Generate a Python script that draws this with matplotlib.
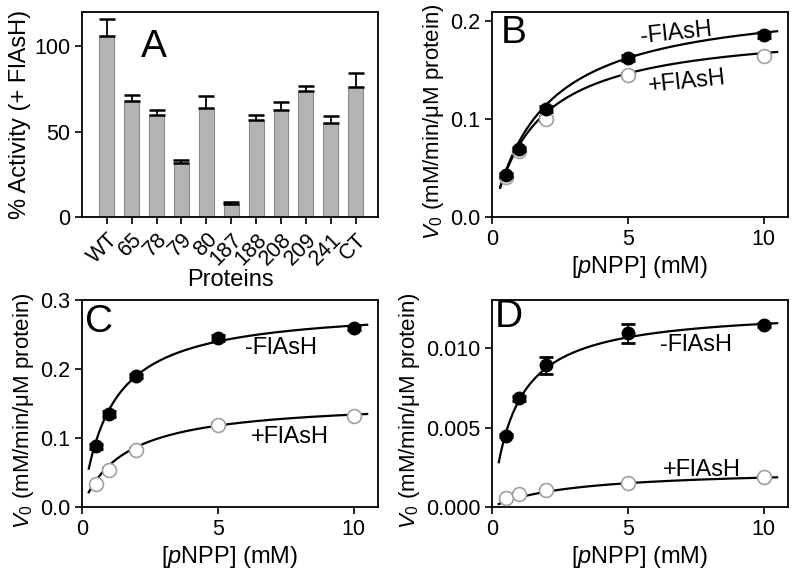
import numpy as np
import matplotlib
matplotlib.use("Agg")
import matplotlib.pyplot as plt

plt.rcParams['font.family'] = ['Liberation Sans', 'DejaVu Sans']
plt.rcParams['mathtext.fontset'] = 'custom'
plt.rcParams['mathtext.rm'] = 'Liberation Sans'
plt.rcParams['mathtext.it'] = 'Liberation Sans:italic'

# ---- Panel A data ----
proteins = ["WT", "65", "78", "79", "80", "187", "188", "208", "209", "241", "CT"]
activity = [106, 68, 60, 32, 64, 8, 57, 63, 74, 55, 76]
activity_err = [10, 3.5, 2.5, 1.5, 7, 0.8, 3, 4.5, 3, 4, 8.5]

# ---- Kinetic data ----
substrate = [0.5, 1, 2, 5, 10]

B_minus = [0.043, 0.070, 0.110, 0.162, 0.186]
B_minus_err = [0.002, 0.002, 0.003, 0.003, 0.003]
B_plus = [0.041, 0.068, 0.100, 0.145, 0.164]
B_plus_err = [0.002, 0.002, 0.003, 0.002, 0.002]

C_minus = [0.088, 0.135, 0.190, 0.245, 0.260]
C_minus_err = [0.004, 0.004, 0.003, 0.004, 0.003]
C_plus = [0.033, 0.054, 0.083, 0.119, 0.132]
C_plus_err = [0.002, 0.002, 0.002, 0.003, 0.002]

D_minus = [0.0045, 0.00685, 0.00895, 0.01095, 0.01148]
D_minus_err = [0.0001, 0.00015, 0.00053, 0.0006, 0.0001]
D_plus = [0.00055, 0.00082, 0.00107, 0.00153, 0.0019]
D_plus_err = [0.00003, 0.00003, 0.00003, 0.00005, 0.00008]

# Michaelis-Menten fit parameters (Vmax, Km)
B_fit_minus = (0.224, 1.9)
B_fit_plus = (0.195, 1.65)
C_fit_minus = (0.291, 1.06)
C_fit_plus = (0.155, 1.57)
D_fit_minus = (0.01255, 0.862)
D_fit_plus = (0.00241, 3.04)

fig = plt.figure(figsize=(8, 5.84), dpi=100)

axA = fig.add_axes([0.1025, 0.628, 0.37, 0.351])
axB = fig.add_axes([0.615, 0.628, 0.37, 0.351])
axC = fig.add_axes([0.1025, 0.132, 0.37, 0.354])
axD = fig.add_axes([0.615, 0.132, 0.37, 0.354])

TICK_FS = 15.5
LAB_FS = 17
VLAB_FS = 16
ANN_FS = 17
LET_FS = 28

def style(ax):
    for s in ax.spines.values():
        s.set_linewidth(1.3)
    ax.tick_params(direction='out', length=5, width=1.2, labelsize=TICK_FS,
                   top=False, right=False)

# Panel A
x = np.arange(len(proteins))
axA.bar(x, activity, width=0.6, color='#b3b3b3', edgecolor='#8a8a8a', linewidth=0.8)
axA.errorbar(x, activity, yerr=[np.zeros(len(activity)), activity_err], fmt='none',
             ecolor='black', elinewidth=1.3, capsize=5.5, capthick=1.8)
axA.set_xlim(-1.0, 10.9)
axA.set_ylim(0, 120)
axA.set_yticks([0, 50, 100])
axA.set_xticks(x)
axA.set_xticklabels(proteins, rotation=45, ha='right', rotation_mode='anchor')
axA.set_xlabel("Proteins", fontsize=LAB_FS, labelpad=0)
axA.set_ylabel("% Activity (+ FlAsH)", fontsize=LAB_FS, labelpad=2)
axA.text(0.2, 0.83, "A", transform=axA.transAxes, fontsize=LET_FS, ha='left', va='center')
style(axA)

def mm(params, s):
    vm, km = params
    return vm * s / (km + s)

def kinetic(ax, ymin, yplus, emin, eplus, fmin, fplus, xstart):
    xs = np.linspace(xstart, 10.5, 300)
    ax.plot(xs, mm(fmin, xs), color='black', lw=1.6, zorder=3)
    ax.plot(xs, mm(fplus, xs), color='black', lw=1.6, zorder=3)
    ax.errorbar(substrate, yplus, yerr=eplus, fmt='o', ms=10, mfc='white', mec='#a0a0a0',
                mew=1.2, ecolor='#222222', elinewidth=1.2, capsize=5, capthick=2, zorder=4)
    ax.errorbar(substrate, ymin, yerr=emin, fmt='o', ms=9, mfc='black', mec='black',
                ecolor='black', elinewidth=1.2, capsize=5, capthick=2, zorder=5)
    ax.set_xlim(0, 10.9)
    ax.set_xticks([0, 5, 10])
    ax.set_xlabel(r"[$p$NPP] (mM)", fontsize=LAB_FS, labelpad=3)
    ax.set_ylabel(r"$V_0$ (mM/min/μM protein)", fontsize=VLAB_FS, labelpad=3)
    ax.yaxis.label.set_y(0.465)
    style(ax)

# Panel B
kinetic(axB, B_minus, B_plus, B_minus_err, B_plus_err, B_fit_minus, B_fit_plus, 0.3)
axB.set_ylim(0, 0.209)
axB.set_yticks([0.0, 0.1, 0.2])
axB.set_yticklabels(["0.0", "0.1", "0.2"])
axB.text(0.03, 0.90, "B", transform=axB.transAxes, fontsize=LET_FS, ha='left', va='center')
axB.text(6.77, 0.188, "-FlAsH", fontsize=ANN_FS, ha='center', va='center', rotation=6)
axB.text(7.17, 0.138, "+FlAsH", fontsize=ANN_FS, ha='center', va='center', rotation=6)

# Panel C
kinetic(axC, C_minus, C_plus, C_minus_err, C_plus_err, C_fit_minus, C_fit_plus, 0.25)
axC.set_ylim(0, 0.3)
axC.set_yticks([0.0, 0.1, 0.2, 0.3])
axC.set_yticklabels(["0.0", "0.1", "0.2", "0.3"])
axC.text(0.01, 0.895, "C", transform=axC.transAxes, fontsize=LET_FS, ha='left', va='center')
axC.text(7.32, 0.23, "-FlAsH", fontsize=ANN_FS, ha='center', va='center')
axC.text(7.65, 0.102, "+FlAsH", fontsize=ANN_FS, ha='center', va='center')

# Panel D
kinetic(axD, D_minus, D_plus, D_minus_err, D_plus_err, D_fit_minus, D_fit_plus, 0.25)
axD.set_ylim(0, 0.01305)
axD.set_yticks([0.0, 0.005, 0.010])
axD.set_yticklabels(["0.000", "0.005", "0.010"])
axD.text(0.01, 0.92, "D", transform=axD.transAxes, fontsize=LET_FS, ha='left', va='center')
axD.text(7.5, 0.0102, "-FlAsH", fontsize=ANN_FS, ha='center', va='center')
axD.text(7.73, 0.00233, "+FlAsH", fontsize=ANN_FS, ha='center', va='center')

fig.savefig("out.png", dpi=100)
